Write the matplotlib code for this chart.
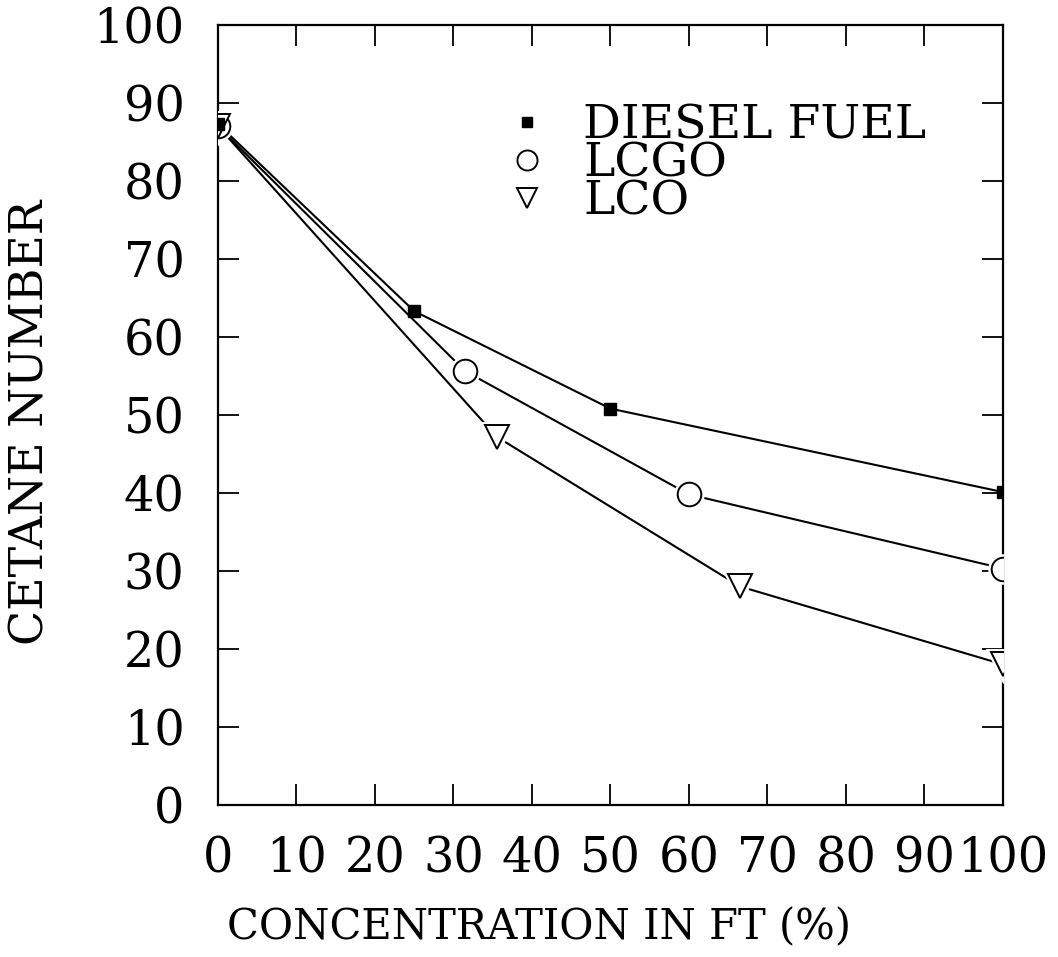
import numpy as np
import matplotlib.pyplot as plt

plt.rcParams['font.family'] = ['DejaVu Serif']

# concentration of FT (%) and cetane number for each blend stock
diesel_x = [0, 25, 50, 100]
diesel_y = [87.3, 63.3, 50.8, 40.1]

lcgo_x = [0, 31.5, 60, 100]
lcgo_y = [87.0, 55.6, 39.8, 30.3]

lco_x = [0, 35.5, 66.5, 100]
lco_y = [87.0, 47.2, 28.0, 18.0]

xticks = np.arange(0, 101, 10)
yticks = np.arange(0, 101, 10)

fig = plt.figure(figsize=(10.58, 9.57), dpi=100)
ax = fig.add_axes([0.206, 0.159, 0.742, 0.815])

# lines first, then a white halo so the lines stop short of the open markers
ax.plot(diesel_x, diesel_y, 'k-', lw=1.5, zorder=2)
ax.plot(lcgo_x, lcgo_y, 'k-', lw=1.5, zorder=2)
ax.plot(lco_x, lco_y, 'k-', lw=1.5, zorder=2)

ax.plot(lcgo_x, lcgo_y, 'o', ms=17, mfc='white', mec='white', mew=5, zorder=3)
ax.plot(lco_x, lco_y, 'v', ms=17, mfc='white', mec='white', mew=5, zorder=3)

ax.plot(lcgo_x, lcgo_y, 'o', ms=17, mfc='white', mec='black', mew=1.4,
        zorder=4, label='LCGO')
ax.plot(lco_x, lco_y, 'v', ms=17, mfc='white', mec='black', mew=1.4,
        zorder=4, label='LCO')
ax.plot(diesel_x, diesel_y, 's', ms=8, color='black', zorder=5,
        label='DIESEL FUEL')

ax.set_xlim(0, 100)
ax.set_ylim(0, 100)
ax.set_xticks(xticks)
ax.set_yticks(yticks)
ax.tick_params(direction='in', length=15, width=1.3, top=True, right=True,
               labelsize=34.5)
ax.tick_params(axis='x', pad=22)
ax.tick_params(axis='y', pad=24)
for s in ax.spines.values():
    s.set_linewidth(1.6)

ax.set_xlabel('CONCENTRATION IN FT (%)', fontsize=30)
ax.xaxis.set_label_coords(0.409, -0.13)
ax.set_ylabel('CETANE NUMBER', fontsize=33)
ax.yaxis.set_label_coords(-0.21, 0.49)

h, l = ax.get_legend_handles_labels()
order = [2, 0, 1]
leg = ax.legend([h[i] for i in order], [l[i] for i in order], loc='upper left',
                bbox_to_anchor=(0.357, 0.9), frameon=False, fontsize=34,
                labelspacing=-0.15, handletextpad=0.6, handlelength=1.2,
                borderaxespad=0, borderpad=0, markerscale=0.85)

fig.savefig('out.png', dpi=100)
